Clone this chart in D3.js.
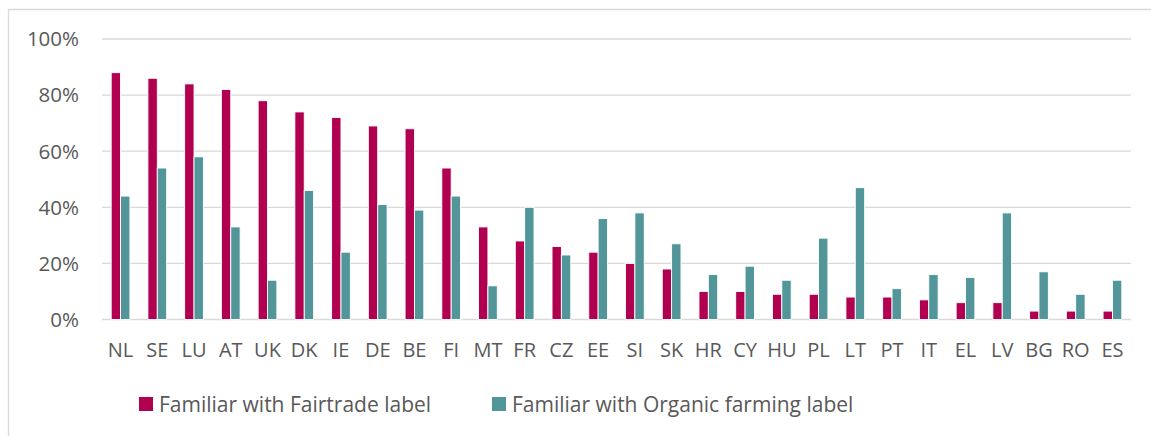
<!DOCTYPE html>
<html>
<head>
<meta charset="utf-8">
<script src="https://cdn.jsdelivr.net/npm/d3@7"></script>
<style>
  html, body { margin: 0; padding: 0; background: #fff; }
  svg { display: block; font-family: "Open Sans", sans-serif; }
</style>
</head>
<body>
<div id="chart"></div>
<script>
// ----------------------------
// DATA
// ----------------------------
const countries = ["NL", "SE", "LU", "AT", "UK", "DK", "IE", "DE", "BE", "FI", "MT", "FR", "CZ", "EE",
  "SI", "SK", "HR", "CY", "HU", "PL", "LT", "PT", "IT", "EL", "LV", "BG", "RO", "ES"];

const fairtrade = [88, 86, 84, 82, 78, 74, 72, 69, 68, 54, 33, 28, 26, 24,
  20, 18, 10, 10, 9, 9, 8, 8, 7, 6, 6, 3, 3, 3];

const organic = [44, 54, 58, 33, 14, 46, 24, 41, 39, 44, 12, 40, 23, 36,
  38, 27, 16, 19, 14, 29, 47, 11, 16, 15, 38, 17, 9, 14];

const seriesNames = ["Familiar with Fairtrade label", "Familiar with Organic farming label"];
const yTicks = [0, 20, 40, 60, 80, 100];

// ----------------------------
// SETUP
// ----------------------------
const width = 1151;
const height = 437;
const plot = { left: 102, right: 1131, top: 39, bottom: 319.5 };
const colors = ["#B0004F", "#52969A"];
const textColor = "#595959";
const gridColor = "#D9D9D9";

const svg = d3.select("#chart")
  .append("svg")
  .attr("width", width)
  .attr("height", height);

// chart frame (only top and left edges fall inside the picture)
svg.append("path")
  .attr("d", `M8.5,436 V9.5 H${width}`)
  .attr("fill", "none")
  .attr("stroke", gridColor)
  .attr("stroke-width", 1.3);

const x = d3.scaleBand()
  .domain(countries)
  .range([plot.left, plot.right])
  .paddingInner(0.49)
  .paddingOuter(0.25);

const xSub = d3.scaleBand()
  .domain([0, 1])
  .range([0, x.bandwidth()]);

const y = d3.scaleLinear()
  .domain([0, 100])
  .range([plot.bottom, plot.top]);

// ----------------------------
// GRID + Y AXIS
// ----------------------------
svg.append("g")
  .selectAll("line")
  .data(yTicks)
  .join("line")
  .attr("x1", plot.left)
  .attr("x2", plot.right)
  .attr("y1", d => y(d))
  .attr("y2", d => y(d))
  .attr("stroke", gridColor)
  .attr("stroke-width", 1.3);

svg.append("g")
  .selectAll("text")
  .data(yTicks)
  .join("text")
  .attr("x", 79)
  .attr("y", d => y(d))
  .attr("dy", "0.36em")
  .attr("text-anchor", "end")
  .attr("fill", textColor)
  .style("font-size", "20.5px")
  .text(d => d + "%");

// ----------------------------
// BARS
// ----------------------------
const rows = countries.map((c, i) => ({ country: c, values: [fairtrade[i], organic[i]] }));

const groups = svg.append("g")
  .selectAll("g")
  .data(rows)
  .join("g")
  .attr("transform", d => `translate(${x(d.country)},0)`);

groups.selectAll("rect")
  .data(d => d.values.map((v, k) => ({ k, v })))
  .join("rect")
  .attr("x", d => xSub(d.k))
  .attr("width", xSub.bandwidth())
  .attr("y", d => y(d.v))
  .attr("height", d => y(0) - y(d.v))
  .attr("fill", d => colors[d.k])
  .attr("stroke", "#fff")
  .attr("stroke-width", 0.9);

// ----------------------------
// X LABELS
// ----------------------------
svg.append("g")
  .selectAll("text")
  .data(countries)
  .join("text")
  .attr("x", d => x(d) + x.bandwidth() / 2)
  .attr("y", 357)
  .attr("text-anchor", "middle")
  .attr("fill", textColor)
  .style("font-size", "20px")
  .text(d => d);

// ----------------------------
// LEGEND
// ----------------------------
const legendX = [139, 492];

const legend = svg.append("g")
  .selectAll("g")
  .data(seriesNames)
  .join("g")
  .attr("transform", (_, i) => `translate(${legendX[i]},397)`);

legend.append("rect")
  .attr("width", 14)
  .attr("height", 14)
  .attr("fill", (_, i) => colors[i]);

legend.append("text")
  .attr("x", 20)
  .attr("y", 15)
  .attr("fill", textColor)
  .style("font-size", "21px")
  .text(d => d);
</script>
</body>
</html>
